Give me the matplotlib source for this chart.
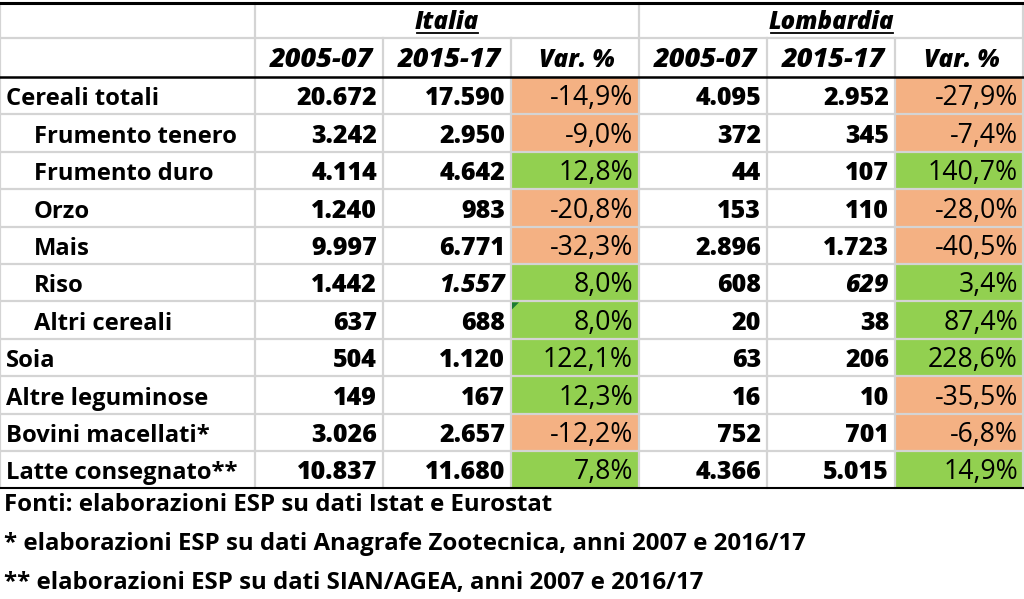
import matplotlib
matplotlib.use('Agg')
import matplotlib.pyplot as plt
from matplotlib.patches import Rectangle, Polygon

# data
labels = ['Cereali totali', 'Frumento tenero', 'Frumento duro', 'Orzo', 'Mais',
          'Riso', 'Altri cereali', 'Soia', 'Altre leguminose',
          'Bovini macellati*', 'Latte consegnato**']
indent = [0, 1, 1, 1, 1, 1, 1, 0, 0, 0, 0]
ita_0507 = ['20.672', '3.242', '4.114', '1.240', '9.997', '1.442', '637', '504', '149', '3.026', '10.837']
ita_1517 = ['17.590', '2.950', '4.642', '983', '6.771', '1.557', '688', '1.120', '167', '2.657', '11.680']
ita_var = [-14.9, -9.0, 12.8, -20.8, -32.3, 8.0, 8.0, 122.1, 12.3, -12.2, 7.8]
lom_0507 = ['4.095', '372', '44', '153', '2.896', '608', '20', '63', '16', '752', '4.366']
lom_1517 = ['2.952', '345', '107', '110', '1.723', '629', '38', '206', '10', '701', '5.015']
lom_var = [-27.9, -7.4, 140.7, -28.0, -40.5, 3.4, 87.4, 228.6, -35.5, -6.8, 14.9]
italic_cells = {(5, 2), (5, 5)}  # (row, col) shown in italics
groups = ['Italia', 'Lombardia']
periods = ['2005-07', '2015-17', 'Var. %']
notes = ['Fonti: elaborazioni ESP su dati Istat e Eurostat',
         '* elaborazioni ESP su dati Anagrafe Zootecnica, anni 2007 e 2016/17',
         '** elaborazioni ESP su dati SIAN/AGEA, anni 2007 e 2016/17']

ORANGE = '#F4B183'
GREEN = '#92D050'
GRID = '#D4D4D4'
FONT = 'Open Sans'

col_edges = [0, 255, 383, 511, 639, 767, 895, 1024]
top = 3
head_h = [35, 39]
row_h = 37.4
W, H = 1024, 599

fig = plt.figure(figsize=(W / 100, H / 100), dpi=100)
ax = fig.add_axes([0, 0, 1, 1])
ax.set_xlim(0, W)
ax.set_ylim(H, 0)
ax.axis('off')

def fmt_pct(v):
    return ('%.1f%%' % v).replace('.', ',')

y_h1 = top + head_h[0]
y_h2 = y_h1 + head_h[1]
n = len(labels)
row_tops = [y_h2 + i * row_h for i in range(n)]
y_end = y_h2 + n * row_h

# coloured var cells
for i in range(n):
    for col, vals in ((3, ita_var), (6, lom_var)):
        c = GREEN if vals[i] > 0 else ORANGE
        ax.add_patch(Rectangle((col_edges[col], row_tops[i]), col_edges[col + 1] - col_edges[col],
                               row_h, facecolor=c, edgecolor='none', zorder=1))

# grid lines
for x in col_edges[1:-1]:
    y0 = top if x in (255, 639) else y_h1
    ax.plot([x, x], [y0, y_end], color=GRID, lw=1.6, zorder=2)
ax.plot([col_edges[-1] - 1, col_edges[-1] - 1], [top, y_end], color=GRID, lw=1.6, zorder=2)
ax.plot([0, 0], [top, y_end], color=GRID, lw=1.6, zorder=2)
ax.plot([0, W], [y_h1, y_h1], color=GRID, lw=1.6, zorder=2)
for i in range(1, n):
    ax.plot([0, W], [row_tops[i], row_tops[i]], color=GRID, lw=1.6, zorder=2)
for y, lw in ((top, 2.2), (y_h2, 1.8), (y_end, 1.5)):
    ax.plot([0, W], [y, y], color='black', lw=lw, zorder=3)

fs_lab = 17.1
fs_val = 18.0
fs_pct = 19.2
fs_group = 17.3
fs_year = 19.5
fs_varh = 17.5
fs_note = 17.3

# group headers
for g, (a, b) in zip(groups, ((255, 639), (639, 1024))):
    t = ax.text((a + b) / 2, y_h1 - 9, g, ha='center', va='baseline', fontsize=fs_group,
                fontweight='heavy', style='italic', family=FONT, zorder=4)
    fig.canvas.draw()
    bb = ax.transData.inverted().transform(t.get_window_extent())
    ax.plot([bb[0][0] + 2, bb[1][0] - 1], [y_h1 - 5, y_h1 - 5], color='black', lw=1.3, zorder=4)

for k in range(6):
    c = k + 1
    p = periods[k % 3]
    ax.text((col_edges[c] + col_edges[c + 1]) / 2 + 2, y_h2 - 10, p, ha='center',
            va='baseline', fontsize=fs_varh if p.startswith('Var') else fs_year,
            fontweight='heavy', style='italic', family=FONT, zorder=4)

cols = [ita_0507, ita_1517, ita_var, lom_0507, lom_1517, lom_var]
for i in range(n):
    yb = row_tops[i] + row_h - 9
    ax.text(6 + indent[i] * 28, yb, labels[i], ha='left', va='baseline', fontsize=fs_lab,
            fontweight='bold', family=FONT, zorder=4)
    for k, vals in enumerate(cols):
        c = k + 1
        if k in (2, 5):
            ax.text(col_edges[c + 1] - 6, yb, fmt_pct(vals[i]), ha='right', va='baseline',
                    fontsize=fs_pct, family=FONT, zorder=4)
        else:
            st = 'italic' if (i, c) in italic_cells else 'normal'
            ax.text(col_edges[c + 1] - 6, yb, vals[i], ha='right', va='baseline',
                    fontsize=fs_val, fontweight='heavy', style=st, family=FONT, zorder=4)

# Excel error marker on "Altri cereali" Italia var cell
x0, y0 = col_edges[3] + 1, row_tops[6] + 1
ax.add_patch(Polygon([[x0, y0], [x0 + 7, y0], [x0, y0 + 7]], closed=True,
                     facecolor='#1E7B34', edgecolor='none', zorder=5))

for j, t in enumerate(notes):
    ax.text(4, y_end + 23 + j * 39, t, ha='left', va='baseline', fontsize=fs_note,
            fontweight='bold', family=FONT, zorder=4)

fig.savefig('out.png', dpi=100)
